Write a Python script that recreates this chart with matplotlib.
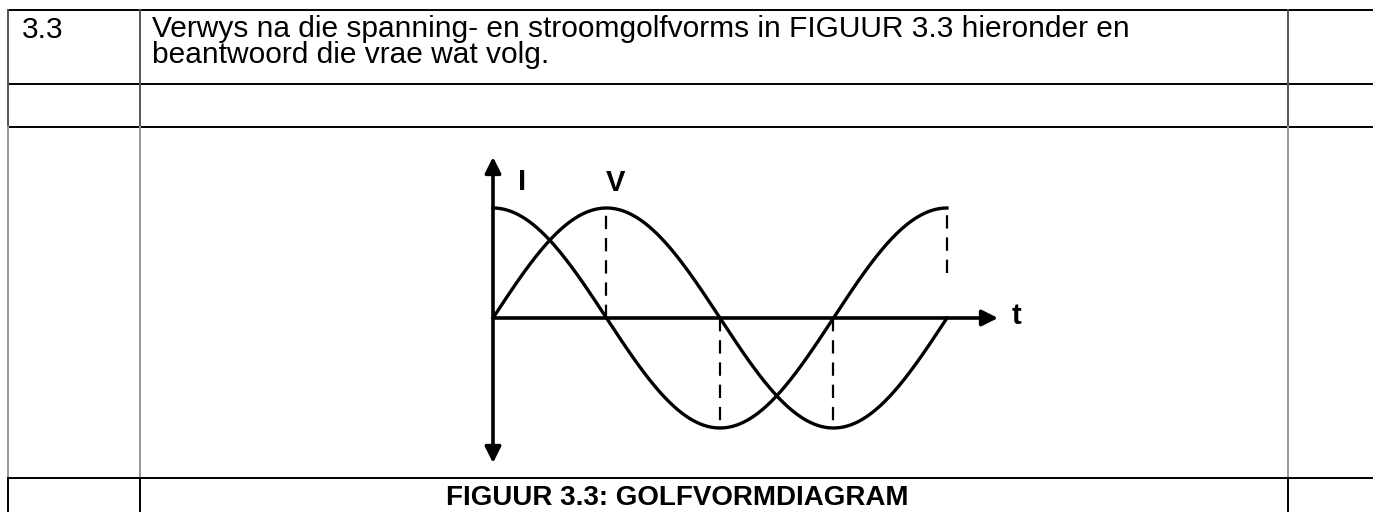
import numpy as np
import matplotlib
matplotlib.use('Agg')
import matplotlib.pyplot as plt

plt.rcParams['font.family'] = ['Liberation Sans', 'DejaVu Sans']

# question text
question_no = '3.3'
question_lines = ['Verwys na die spanning- en stroomgolfvorms in FIGUUR 3.3 hieronder en',
                  'beantwoord die vrae wat volg.']
caption = 'FIGUUR 3.3: GOLFVORMDIAGRAM'

# waveforms over one period (degrees)
phase = np.linspace(0, 360, 500)
voltage = np.sin(np.radians(phase))
current = np.cos(np.radians(phase))

# dashed guide lines: phase, from, to (amplitude)
guide_phase = [90, 180, 270, 360]
guide_from = [0.0, 0.0, 0.0, 0.41]
guide_to = [1.0, -1.0, -1.0, 1.0]

W, H = 1373, 512
fig = plt.figure(figsize=(W / 100, H / 100), dpi=100)

# table frame in pixel coordinates
tab = fig.add_axes([0, 0, 1, 1])
tab.set_xlim(0, W)
tab.set_ylim(H, 0)
tab.axis('off')

row_lines = [10, 84, 127, 478]
col_lines = [8, 140, 1288]
for y in row_lines:
    tab.plot([8, W], [y, y], color='black', lw=1.4, solid_capstyle='butt')
for x in col_lines:
    tab.plot([x, x], [10, 127], color='#555555', lw=1.4)
    tab.plot([x, x], [127, 478], color='#999999', lw=1.4)
    tab.plot([x, x], [478, H], color='black', lw=1.4)

tab.text(22, 38, question_no, fontsize=21.5, va='baseline')
tab.text(152, 63, '\n'.join(question_lines), fontsize=21.5, va='baseline',
         linespacing=0.93)
tab.text(677, 505, caption, fontsize=20, fontweight='bold', ha='center', va='baseline')

# waveform diagram
px_deg = 1.261
x0, xl, xr = 493, -20, 430
ax_left = x0 + xl * px_deg
ax_w = (xr - xl) * px_deg
ax_top, ax_h = 318 - 176, 352
ax = fig.add_axes([ax_left / W, (H - ax_top - ax_h) / H, ax_w / W, ax_h / H])
ax.set_xlim(xl, xr)
ax.set_ylim(-1.6, 1.6)
ax.axis('off')
ax.patch.set_alpha(0)

ax.plot(phase, voltage, color='black', lw=2.4)
ax.plot(phase, current, color='black', lw=2.4)
for p, a, b in zip(guide_phase, guide_from, guide_to):
    ax.plot([p, p], [a, b], color='black', lw=1.6, dashes=(6, 4))

ax.annotate('', xy=(400.5, 0), xytext=(0, 0),
            arrowprops=dict(arrowstyle='-|>', lw=2.6, color='black',
                            mutation_scale=24, shrinkA=0, shrinkB=0))
ax.annotate('', xy=(0, 1.464), xytext=(0, -1.318),
            arrowprops=dict(arrowstyle='<|-|>', lw=2.6, color='black',
                            mutation_scale=24, shrinkA=0, shrinkB=0))

ax.text(23, 1.24, 'I', fontsize=21, fontweight='bold', ha='center', va='center')
ax.text(97.5, 1.23, 'V', fontsize=21, fontweight='bold', ha='center', va='center')
ax.text(415, 0.02, 't', fontsize=21, fontweight='bold', ha='center', va='center')

fig.savefig('out.png', dpi=100)
